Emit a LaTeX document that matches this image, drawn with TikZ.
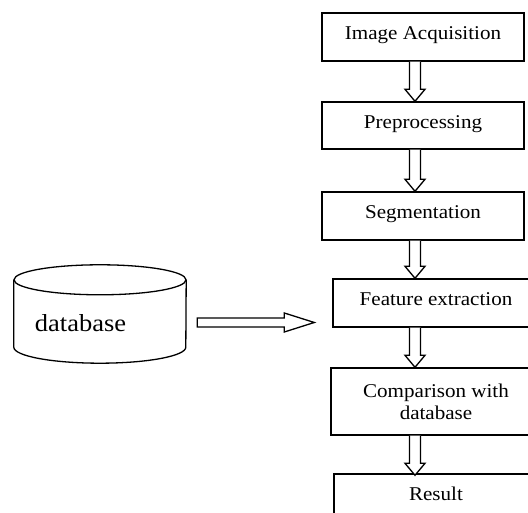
\documentclass[tikz,border=0pt]{standalone}
\usepackage{fontspec}
\setmainfont[FakeStretch=1.08]{Liberation Serif}
\usetikzlibrary{calc}
\tikzset{
  stage/.style={draw, line width=1.4pt, minimum width=202pt, minimum height=48pt,
    inner sep=0pt, font=\fontsize{19.5}{22}\selectfont, text height=12pt, text depth=6pt},
  blockarrow/.style={draw, line width=1.3pt, fill=white, line join=miter},
  cyl/.style={line width=1.3pt}
}
\newcommand{\varrowblk}[2]{%
  \draw[blockarrow] ($(#1)+(-5.5,0)$) -- ($(#2)+(-5.5,12)$) -- ($(#2)+(-10,12)$) -- (#2)
    -- ($(#2)+(10,12)$) -- ($(#2)+(5.5,12)$) -- ($(#1)+(5.5,0)$);}
\begin{document}
\begin{tikzpicture}[x=1pt,y=1pt]
\clip (0,0) rectangle (528,513);
\fill[white] (0,0) rectangle (528,513);
% stages
\node[stage] (b1) at (423,476) {Image Acquisition};
\node[stage, minimum height=47pt] (b2) at (423,387.5) {Preprocessing};
\node[stage] (b3) at (423,297) {Segmentation};
\node[stage, minimum width=206pt] (b4) at (436,210) {Feature extraction};
\node[stage, minimum width=210pt, minimum height=67pt, align=center, text height=, text depth=] (b5) at (436,111.5) {Comparison with\\database};
\node[stage, minimum width=204pt] (b6) at (436,15) {Result};
% arrows
\coordinate (ax) at (415,0);
\varrowblk{ax |- b1.south}{ax |- b2.north}
\varrowblk{ax |- b2.south}{ax |- b3.north}
\varrowblk{ax |- b3.south}{ax |- b4.north}
\varrowblk{ax |- b4.south}{ax |- b5.north}
\varrowblk{ax |- b5.south}{$(ax |- b6.north)+(0,-2)$}
% database cylinder
\node[minimum width=172pt, minimum height=98pt, inner sep=0pt] (db) at (100,199) {};
\draw[cyl] ($(db.north)+(0,-15)$) ellipse [x radius=86, y radius=15];
\draw[cyl] ($(db.north west)+(0,-15)$) -- ($(db.south west)+(0,16)$)
  arc[start angle=180, end angle=360, x radius=86, y radius=16]
  -- ($(db.north east)+(0,-15)$);
\node[anchor=base, font=\fontsize{24.5}{28}\selectfont, inner sep=0pt] (dblabel) at (80.5,181) {database};
% horizontal arrow
\coordinate (hs) at ($(db.east)+(11,-8.5)$);
\coordinate (ht) at ($(b4.west |- hs)+(-18,0)$);
\draw[blockarrow] ($(hs)+(0,4.5)$) -- ($(ht)+(-30,4.5)$) -- ($(ht)+(-30,9.5)$) -- (ht)
  -- ($(ht)+(-30,-9.5)$) -- ($(ht)+(-30,-4.5)$) -- ($(hs)+(0,-4.5)$) -- cycle;
\end{tikzpicture}
\end{document}
